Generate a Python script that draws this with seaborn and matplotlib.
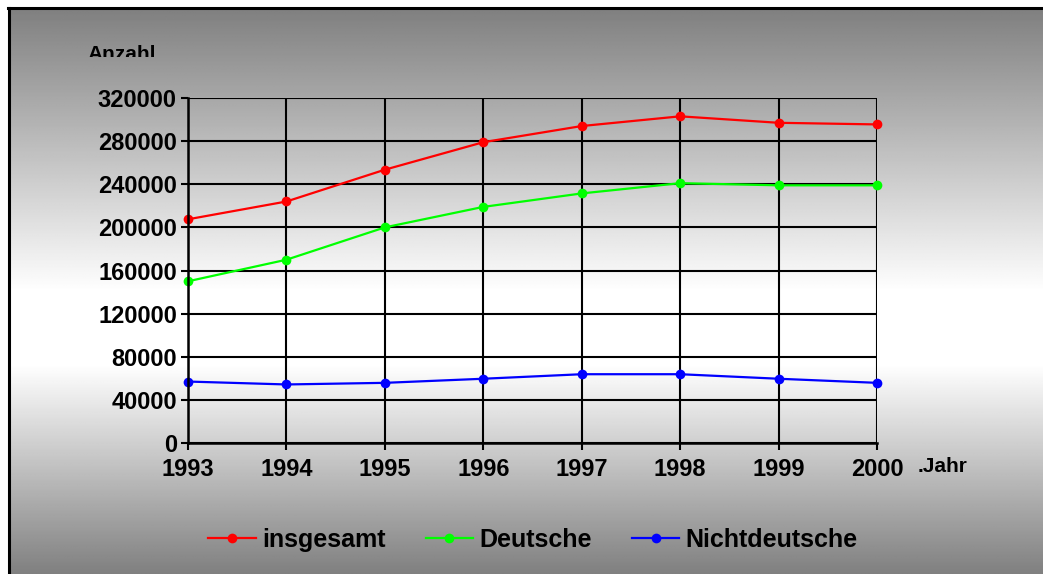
import numpy as np
import pandas as pd
import seaborn as sns
import matplotlib.pyplot as plt
from matplotlib.transforms import Bbox

# ---------------------------------------------------
# Daten
# ---------------------------------------------------
jahre = [1993, 1994, 1995, 1996, 1997, 1998, 1999, 2000]
insgesamt = [207500, 224000, 253500, 279000, 294000, 303000, 297000, 295500]
deutsche = [150000, 170000, 200000, 219000, 231500, 241000, 239000, 239000]
nichtdeutsche = [57000, 54300, 55800, 59600, 63800, 63800, 59600, 55800]
serien = ["insgesamt", "Deutsche", "Nichtdeutsche"]
farben = ["#ff0000", "#00ff00", "#0000ff"]
y_ticks = [0, 40000, 80000, 120000, 160000, 200000, 240000, 280000, 320000]

df = pd.DataFrame({
    "Jahr": jahre * 3,
    "Anzahl": insgesamt + deutsche + nichtdeutsche,
    "Serie": [s for s in serien for _ in jahre],
})

plt.rcParams["font.family"] = ["Liberation Sans", "DejaVu Sans"]
plt.rcParams["font.weight"] = "bold"

W, H = 1043, 574
fig = plt.figure(figsize=(W / 100, H / 100), dpi=100)
fig.patch.set_facecolor("white")

# ---------------------------------------------------
# Hintergrund: vertikaler Grauverlauf
# ---------------------------------------------------
bg = fig.add_axes([9 / W, 0, 1 - 9 / W, (H - 9) / H], zorder=-5)
ys = np.linspace(0, 1, 400)
stops_y = [0.0, 0.50, 0.63, 1.0]
stops_v = [128, 255, 255, 128]
vals = np.interp(ys, stops_y, stops_v) / 255.0
grad = np.tile(vals[:, None], (1, 10))
bg.imshow(grad, cmap="gray", vmin=0, vmax=1, aspect="auto",
          extent=[0, 1, 1, 0], interpolation="bilinear")
bg.set_axis_off()

# Rahmenlinien oben und links
fig.add_artist(plt.Line2D([8 / W, 1], [(H - 8) / H, (H - 8) / H],
                          color="black", lw=2.2, transform=fig.transFigure))
fig.add_artist(plt.Line2D([9 / W, 9 / W], [0, (H - 8) / H],
                          color="black", lw=2.2, transform=fig.transFigure))

# ---------------------------------------------------
# Diagramm
# ---------------------------------------------------
ax = fig.add_axes([188 / W, 131 / H, 689 / W, 345 / H])
ax.set_facecolor("none")
sns.lineplot(data=df, x="Jahr", y="Anzahl", hue="Serie", hue_order=serien,
             palette=farben, marker="o", markersize=7, markeredgewidth=0,
             linewidth=1.6, ax=ax, legend=True)
for line in ax.get_lines():
    line.set_clip_on(False)

ax.set_xlim(1993, 2000)
ax.set_ylim(0, 320000)
ax.set_xticks(jahre)
ax.set_yticks(y_ticks)
ax.set_xticklabels([str(j) for j in jahre])
ax.set_yticklabels([str(v) for v in y_ticks])
ax.grid(True, color="black", linewidth=1.5)
ax.set_axisbelow(True)
for side in ["top", "right"]:
    ax.spines[side].set_visible(False)
for side in ["left", "bottom"]:
    ax.spines[side].set_linewidth(1.8)
    ax.spines[side].set_color("black")
ax.tick_params(axis="both", length=5, width=1.5, color="black",
               labelsize=17, pad=3)
ax.tick_params(axis="x", pad=6)
for lab in ax.get_xticklabels() + ax.get_yticklabels():
    lab.set_fontweight("bold")
ax.set_xlabel("")
ax.set_ylabel("")

# Achsentitel (unten abgeschnitten wie im Original)
t1 = fig.text(87 / W, (H - 45) / H, "Anzahl", fontsize=15, fontweight="bold",
              ha="left", va="top")
t1.set_clip_on(True)
t1.set_clip_box(Bbox.from_extents(0, H - 57, W, H))
t2 = fig.text(918 / W, (H - 457) / H, ".Jahr", fontsize=15, fontweight="bold",
              ha="left", va="top")
t2.set_clip_on(True)
t2.set_clip_box(Bbox.from_extents(0, H - 474, W, H))

# Legende
handles, labels = ax.get_legend_handles_labels()
ax.get_legend().remove()
fig.legend(handles, labels, loc="center", bbox_to_anchor=(0.511, 0.059),
           ncol=3, frameon=False, handlelength=1.9,
           handletextpad=0.25, columnspacing=1.6,
           prop={"weight": "bold", "size": 18})

plt.savefig("out.png", dpi=100)
